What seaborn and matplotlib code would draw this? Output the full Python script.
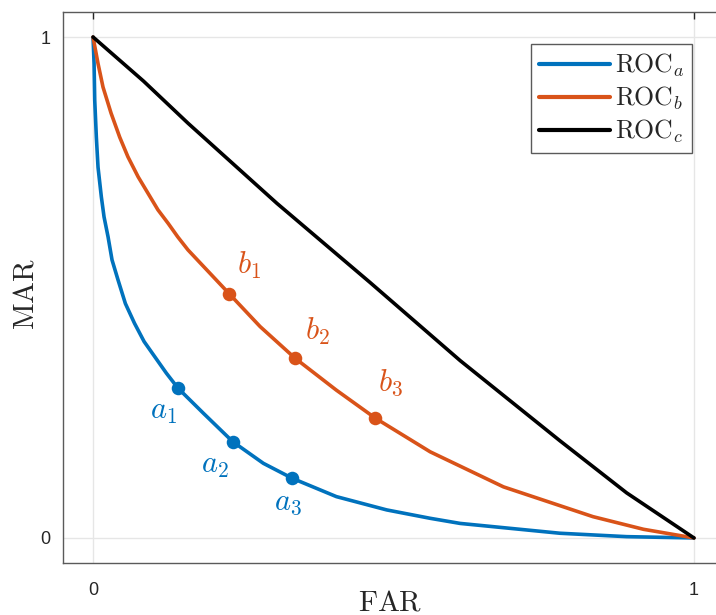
import matplotlib
matplotlib.use("Agg")
import matplotlib.pyplot as plt
import seaborn as sns

# ---- data ----
roc_a_far = [0.0, 0.0017, 0.0028, 0.0055, 0.0083, 0.0138, 0.0183, 0.025, 0.0316,
             0.0416, 0.0538, 0.069, 0.085, 0.1026, 0.122, 0.1414,
             0.1836, 0.2324, 0.2834, 0.3317, 0.405, 0.4886, 0.5607, 0.611,
             0.777, 0.888, 1.0]
roc_a_mar = [1.0, 0.947, 0.874, 0.80, 0.74, 0.681, 0.641, 0.601, 0.555,
             0.515, 0.468, 0.4285, 0.392, 0.362, 0.329, 0.299,
             0.249, 0.1923, 0.149, 0.119, 0.0825, 0.056, 0.0393, 0.029,
             0.0094, 0.0026, 0.0]

roc_b_far = [0.0, 0.0083, 0.0166, 0.030, 0.0444, 0.058, 0.075, 0.0915, 0.108,
             0.125, 0.141, 0.158, 0.227, 0.278, 0.336, 0.405, 0.470, 0.561,
             0.683, 0.832, 0.916, 1.0]
roc_b_mar = [1.0, 0.947, 0.90, 0.848, 0.80, 0.761, 0.721, 0.688, 0.655,
             0.628, 0.601, 0.575, 0.487, 0.422, 0.359, 0.295, 0.239, 0.172,
             0.102, 0.0425, 0.0173, 0.0]

roc_c_far = [0.0, 0.084, 0.158, 0.306, 0.461, 0.611, 0.777, 0.888, 1.0]
roc_c_mar = [1.0, 0.912, 0.828, 0.668, 0.510, 0.354, 0.194, 0.090, 0.0]

pts_a_far = [0.1414, 0.2324, 0.3317]
pts_a_mar = [0.299, 0.1923, 0.119]
pts_a_lbl = [r"$a_1$", r"$a_2$", r"$a_3$"]

pts_b_far = [0.227, 0.336, 0.470]
pts_b_mar = [0.487, 0.359, 0.239]
pts_b_lbl = [r"$b_1$", r"$b_2$", r"$b_3$"]

series_labels = [r"$\mathrm{ROC}_a$", r"$\mathrm{ROC}_b$", r"$\mathrm{ROC}_c$"]
xtick_vals = [0, 1]
ytick_vals = [0, 1]
x_title = r"$\mathrm{FAR}$"
y_title = r"$\mathrm{MAR}$"

# ---- styling ----
BLUE = "#0072BD"
ORANGE = "#D95319"
BLACK = "#000000"
TXT = "#262626"

sns.set_style("white")
plt.rcParams["font.family"] = ["Liberation Sans", "DejaVu Sans"]
plt.rcParams["mathtext.fontset"] = "cm"

fig = plt.figure(figsize=(7.16, 6.15), dpi=100)
ax = fig.add_axes([63 / 716, 52 / 615, 661 / 716, 551 / 615])

lw = 2.6
sns.lineplot(x=roc_a_far, y=roc_a_mar, ax=ax, color=BLUE, linewidth=lw,
             sort=False, estimator=None, label=series_labels[0])
sns.lineplot(x=roc_b_far, y=roc_b_mar, ax=ax, color=ORANGE, linewidth=lw,
             sort=False, estimator=None, label=series_labels[1])
sns.lineplot(x=roc_c_far, y=roc_c_mar, ax=ax, color=BLACK, linewidth=lw,
             sort=False, estimator=None, label=series_labels[2])
for ln in ax.get_lines():
    ln.set_solid_joinstyle("round")

sns.scatterplot(x=pts_a_far, y=pts_a_mar, ax=ax, color=BLUE, s=95,
                edgecolor=BLUE, linewidth=0, zorder=5)
sns.scatterplot(x=pts_b_far, y=pts_b_mar, ax=ax, color=ORANGE, s=95,
                edgecolor=ORANGE, linewidth=0, zorder=5)

a_offsets = [(-14, -23), (-18, -23), (-4, -24)]
b_offsets = [(20, 29), (22, 27), (15, 35)]
for xv, yv, lb, off in zip(pts_a_far, pts_a_mar, pts_a_lbl, a_offsets):
    ax.annotate(lb, (xv, yv), xytext=off, textcoords="offset pixels",
                ha="center", va="center", color=BLUE, fontsize=22)
for xv, yv, lb, off in zip(pts_b_far, pts_b_mar, pts_b_lbl, b_offsets):
    ax.annotate(lb, (xv, yv), xytext=off, textcoords="offset pixels",
                ha="center", va="center", color=ORANGE, fontsize=22)

ax.set_xlim(-0.05, 1.05)
ax.set_ylim(-0.05, 1.05)
ax.set_xticks(xtick_vals)
ax.set_yticks(ytick_vals)
ax.set_xticklabels([str(v) for v in xtick_vals])
ax.set_yticklabels([str(v) for v in ytick_vals])
ax.tick_params(axis="both", direction="in", length=5, width=1, color=TXT,
               labelsize=13, labelcolor=TXT, top=True, right=True)
ax.tick_params(axis="x", pad=14)
ax.tick_params(axis="y", pad=9)
ax.grid(True, color="#e6e6e6", linewidth=1)
ax.set_axisbelow(True)
for sp in ax.spines.values():
    sp.set_visible(True)
    sp.set_color("#5a5a5a")
    sp.set_linewidth(1)

ax.set_xlabel(x_title, fontsize=21, color=TXT)
ax.set_ylabel(y_title, fontsize=21, color=TXT)
ax.xaxis.set_label_coords(0.495, -0.047)
ax.yaxis.set_label_coords(-0.036, 0.488)

leg = ax.legend(loc="upper right", bbox_to_anchor=(0.9516, 0.942),
                borderaxespad=0, fontsize=18.5, frameon=True, fancybox=False,
                handlelength=2.75, handletextpad=0.2, labelspacing=0.22,
                borderpad=0.3, framealpha=1)
leg.get_frame().set_edgecolor("#5a5a5a")
leg.get_frame().set_linewidth(1)
for t in leg.get_texts():
    t.set_color(TXT)
for h in leg.legend_handles:
    h.set_linewidth(3.0)

fig.savefig("out.png", dpi=100)
